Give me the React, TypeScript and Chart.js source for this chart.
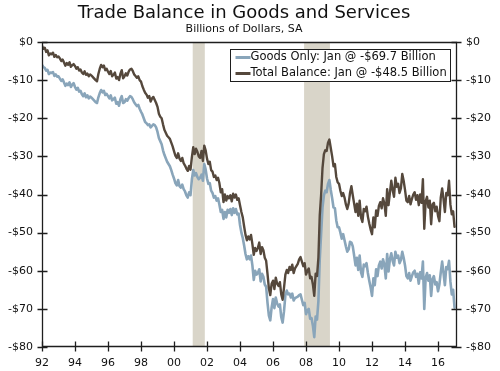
import React, { useEffect, useRef } from "react";
import { Chart, registerables } from "chart.js";

Chart.register(...registerables);

const START_YEAR = 1992;

const TITLE = "Trade Balance in Goods and Services";
const SUBTITLE = "Billions of Dollars, SA";

const seriesLabels = ["Goods Only: Jan @ -$69.7 Billion", "Total Balance: Jan @ -$48.5 Billion"];

// Monthly, Jan 1992 .. Jan 2017, billions of dollars (SA)
const goodsOnly = [
  -6.0, -6.6, -6.8, -7.5, -7.3, -8.4, -8.0, -8.1, -7.9, -8.9, -8.5, -9.1,
  -9.0, -9.6, -10.2, -9.8, -10.6, -11.5, -10.9, -11.3, -10.6, -11.8, -11.2, -10.8,
  -11.8, -12.5, -12.0, -13.0, -12.8, -13.7, -14.2, -13.5, -14.5, -14.0, -14.8, -14.3,
  -14.6, -15.0, -15.4, -15.8, -16.0, -14.5, -13.4, -12.6, -13.2, -12.8, -13.9, -13.6,
  -14.2, -14.8, -14.0, -15.3, -15.0, -14.6, -16.2, -15.8, -16.7, -15.0, -14.2, -16.0,
  -15.8, -15.0, -15.4, -14.7, -14.2, -14.4, -15.0, -15.8, -16.3, -16.8, -16.5, -17.5,
  -18.3, -19.0, -20.0, -21.0, -21.3, -21.8, -21.6, -22.4, -22.0, -21.6, -21.8, -22.4,
  -23.6, -25.2, -26.0, -26.8, -28.4, -29.6, -30.5, -31.4, -32.0, -32.6, -33.6, -34.8,
  -35.8, -37.0, -37.6, -36.2, -37.8, -38.2, -37.4, -38.6, -39.2, -40.2, -40.8, -39.4,
  -40.2, -36.0, -33.6, -35.0, -34.4, -35.4, -36.0, -35.6, -34.8, -36.4, -32.0, -33.4,
  -35.8, -37.2, -37.0, -39.0, -39.6, -40.8, -40.4, -41.6, -41.0, -42.6, -44.6, -44.0,
  -46.4, -44.6, -46.0, -44.0, -44.8, -43.8, -45.4, -43.6, -44.8, -43.8, -45.2, -45.0,
  -48.0, -50.0, -51.4, -53.4, -55.6, -57.0, -56.2, -57.0, -56.0, -58.6, -62.4, -60.0,
  -61.0, -60.6, -59.6, -62.8, -60.8, -61.6, -63.6, -64.2, -68.4, -71.8, -73.0, -69.6,
  -67.4, -69.8, -67.0, -68.6, -69.4, -68.8, -72.2, -73.6, -70.6, -66.4, -65.2, -66.2,
  -66.0, -67.0, -66.0, -67.8, -67.2, -67.0, -66.8, -66.4, -66.2, -67.6, -69.0, -68.4,
  -71.4, -70.4, -70.0, -72.6, -72.4, -74.4, -77.4, -72.0, -72.8, -68.0, -57.0, -50.2,
  -43.4, -40.2, -39.0, -39.4, -37.2, -36.2, -38.8, -41.0, -43.4, -43.6, -46.8, -48.6,
  -48.6, -50.0, -51.6, -50.4, -52.0, -53.6, -55.0, -54.4, -52.4, -52.6, -53.6, -56.0,
  -58.6, -56.6, -59.8, -56.0, -60.4, -61.6, -58.4, -58.8, -58.0, -60.6, -62.6, -64.4,
  -66.6, -62.0, -63.8, -59.6, -61.4, -58.6, -57.6, -59.4, -57.0, -58.4, -62.0, -55.6,
  -60.2, -57.0, -55.4, -57.4, -58.6, -55.0, -56.6, -56.0, -58.0, -57.2, -55.0, -56.6,
  -58.6, -61.4, -62.0, -60.6, -62.6, -61.4, -60.4, -60.0, -61.6, -60.8, -63.4, -60.4,
  -62.0, -57.6, -70.0, -61.8, -60.6, -62.6, -61.2, -66.6, -62.2, -61.4, -63.6, -63.0,
  -65.4, -63.6, -60.4, -57.6, -60.6, -63.8, -59.0, -59.6, -57.4, -62.8, -66.2, -65.0,
  -69.7,
];

const totalBalance = [
  -1.0, -1.8, -1.5, -2.6, -2.2, -3.5, -3.0, -3.2, -2.8, -3.9, -3.4, -4.0,
  -3.8, -4.3, -5.0, -4.6, -5.4, -6.2, -5.5, -6.0, -5.3, -6.5, -6.1, -5.8,
  -6.3, -7.0, -6.6, -7.5, -7.2, -8.0, -8.4, -7.7, -8.6, -8.3, -9.0, -8.5,
  -8.8, -9.2, -9.6, -10.0, -10.3, -8.4, -7.0, -6.0, -6.6, -6.2, -7.4, -7.0,
  -7.8, -8.4, -7.6, -9.0, -8.6, -8.0, -9.6, -9.2, -10.0, -8.4, -7.4, -9.5,
  -9.0, -8.2, -8.8, -7.8, -7.2, -7.0, -7.6, -8.5, -8.9, -9.4, -9.0, -10.0,
  -10.4, -11.6, -12.5, -13.3, -13.8, -14.6, -14.2, -15.6, -14.8, -14.4, -15.2, -16.0,
  -17.0, -18.8, -19.6, -20.0, -21.6, -23.0, -23.8, -24.6, -25.0, -25.4, -26.4, -27.4,
  -28.6, -29.8, -30.4, -29.2, -30.6, -31.2, -30.4, -31.8, -32.4, -33.2, -33.8, -32.5,
  -33.5, -30.2, -27.6, -29.4, -28.0, -28.8, -30.0, -30.4, -28.6, -31.2, -27.2, -28.4,
  -30.6, -32.0, -31.4, -33.6, -34.0, -35.4, -35.0, -36.2, -35.6, -37.0, -39.4, -38.6,
  -42.0, -40.0, -41.6, -40.4, -41.0, -40.2, -41.8, -39.8, -40.8, -40.0, -41.4, -41.0,
  -42.8, -44.6, -46.0, -48.4, -50.6, -52.0, -51.0, -51.8, -50.6, -53.0, -55.8, -54.0,
  -54.8, -54.0, -52.6, -55.6, -53.8, -54.6, -56.6, -57.4, -60.8, -64.6, -66.4, -63.4,
  -62.6, -64.8, -61.8, -63.4, -64.0, -63.0, -66.2, -67.6, -64.4, -61.0, -59.8, -60.6,
  -59.0, -59.8, -58.4, -60.6, -59.4, -58.8, -58.2, -57.0, -56.4, -57.6, -58.8, -58.0,
  -61.0, -60.0, -59.4, -62.0, -61.6, -63.6, -66.6, -60.8, -61.4, -56.6, -45.4, -40.0,
  -33.0, -29.4, -28.4, -28.6, -26.4, -25.6, -27.8, -30.0, -32.6, -32.0, -35.4, -36.8,
  -37.2, -39.0, -40.4, -39.6, -40.8, -42.6, -43.8, -42.4, -39.6, -37.8, -40.2, -42.4,
  -44.6, -42.4, -45.6, -41.6, -46.0, -47.2, -43.8, -44.4, -43.2, -45.8, -47.6, -49.2,
  -50.4, -46.0, -48.6, -44.2, -45.6, -43.0, -42.0, -43.6, -41.0, -42.4, -45.6, -38.6,
  -42.8, -39.6, -36.4, -38.8, -40.6, -35.6, -38.0, -37.2, -39.6, -38.4, -34.6, -36.4,
  -38.8, -41.6, -42.0, -40.4, -42.6, -41.2, -40.0, -39.4, -41.4, -40.2, -42.8, -40.0,
  -42.2, -36.0, -49.0, -41.8, -40.6, -43.4, -41.6, -47.8, -42.6, -42.2, -44.4, -43.2,
  -45.6, -47.0, -40.8, -38.4, -41.2, -44.6, -39.6, -40.2, -36.4, -42.6, -45.2, -44.4,
  -48.5,
];

// Recession periods [start, end] as "YYYY-MM"
const recessions = [
  ["2001-03", "2001-11"],
  ["2007-12", "2009-06"],
];

const xTickYears = [1992, 1994, 1996, 1998, 2000, 2002, 2004, 2006, 2008, 2010, 2012, 2014, 2016];
const yTickValues = [0, -10, -20, -30, -40, -50, -60, -70, -80];
const X_END = "2017-03";

const GOODS_COLOR = "#89a5ba";
const TOTAL_COLOR = "#55483c";
const SHADE_COLOR = "#d9d5c9";
const AXIS_COLOR = "#1e1e1e";
const FONT = "'DejaVu Sans', Verdana, sans-serif";

const monthIndex = (ym: string) => {
  const [y, m] = ym.split("-").map(Number);
  return (y - START_YEAR) * 12 + (m - 1);
};

const fmtDollar = (v: number) => (v === 0 ? "$0" : (v < 0 ? "-$" : "$") + Math.abs(v));

const shadingPlugin = {
  id: "recessionShading",
  beforeDatasetsDraw(chart: any) {
    const { ctx, chartArea, scales } = chart;
    ctx.save();
    ctx.fillStyle = SHADE_COLOR;
    recessions.forEach(([s, e]) => {
      const x1 = scales.x.getPixelForValue(monthIndex(s) - 0.4);
      const x2 = scales.x.getPixelForValue(monthIndex(e) + 0.4);
      ctx.fillRect(x1, chartArea.top, x2 - x1, chartArea.bottom - chartArea.top);
    });
    ctx.restore();
  },
};

const framePlugin = {
  id: "frameTicks",
  afterDatasetsDraw(chart: any) {
    const { ctx, chartArea, scales } = chart;
    const L = Math.round(chartArea.left) + 0.5;
    const R = Math.round(chartArea.right) - 0.5;
    const T = Math.round(chartArea.top) + 0.5;
    const B = Math.round(chartArea.bottom) - 0.5;
    ctx.save();
    ctx.strokeStyle = AXIS_COLOR;
    ctx.lineWidth = 1.3;
    ctx.beginPath();
    ctx.rect(L, T, R - L, B - T);
    ctx.stroke();
    const tl = 5;
    ctx.beginPath();
    scales.x.ticks.forEach((t: any) => {
      const x = Math.round(scales.x.getPixelForValue(t.value)) + 0.5;
      ctx.moveTo(x, B - tl);
      ctx.lineTo(x, B + tl);
    });
    scales.y.ticks.forEach((t: any) => {
      const y = Math.round(scales.y.getPixelForValue(t.value)) + 0.5;
      ctx.moveTo(L - tl, y);
      ctx.lineTo(L + tl, y);
      ctx.moveTo(R - tl, y);
      ctx.lineTo(R + tl, y);
    });
    ctx.stroke();
    ctx.restore();
  },
};

const legendPlugin = {
  id: "boxLegend",
  afterDraw(chart: any) {
    const { ctx, chartArea } = chart;
    ctx.save();
    ctx.font = `11.5px ${FONT}`;
    const order = [1, 0];
    const labels = order.map((i) => chart.data.datasets[i]);
    const left = chartArea.left + 188.5;
    const top = chartArea.top + 7.5;
    const sampleW = 15;
    const textX = left + 5 + sampleW;
    const maxW = Math.max(...labels.map((d: any) => ctx.measureText(d.label).width));
    const w = Math.round(textX - left + maxW + 4);
    const h = 32;
    ctx.fillStyle = "#ffffff";
    ctx.fillRect(left, top, w, h);
    ctx.strokeStyle = AXIS_COLOR;
    ctx.lineWidth = 1;
    ctx.strokeRect(left, top, w, h);
    labels.forEach((d: any, k: number) => {
      const y = top + 8 + k * 16;
      ctx.strokeStyle = d.borderColor;
      ctx.lineWidth = 3;
      ctx.beginPath();
      ctx.moveTo(left + 5, y);
      ctx.lineTo(left + 5 + sampleW, y);
      ctx.stroke();
      ctx.fillStyle = "#111";
      ctx.textBaseline = "middle";
      ctx.textAlign = "left";
      ctx.fillText(d.label, textX, y);
    });
    ctx.restore();
  },
};

const headerPlugin = {
  id: "header",
  afterDraw(chart: any) {
    const { ctx } = chart;
    ctx.save();
    ctx.fillStyle = "#111";
    ctx.textAlign = "center";
    ctx.textBaseline = "alphabetic";
    ctx.font = `18px ${FONT}`;
    ctx.fillText(TITLE, 244, 18);
    ctx.font = `11px ${FONT}`;
    ctx.fillText(SUBTITLE, 244, 32);
    ctx.restore();
  },
};

export default function App() {
  const canvasRef = useRef<HTMLCanvasElement | null>(null);

  useEffect(() => {
    if (!canvasRef.current) return;
    const toPoints = (arr: number[]) => arr.map((v, i) => ({ x: i, y: v }));
    const yScale = (position: "left" | "right", width: number) => ({
      type: "linear" as const,
      position,
      min: -80,
      max: 0,
      afterBuildTicks: (s: any) => {
        s.ticks = yTickValues.map((v) => ({ value: v }));
      },
      afterFit: (s: any) => {
        s.width = width;
      },
      grid: { display: false, drawTicks: false },
      border: { display: false },
      ticks: {
        padding: 9,
        color: "#111",
        font: { family: FONT, size: 11 },
        callback: (v: any) => fmtDollar(Number(v)),
      },
    });

    const chart = new Chart(canvasRef.current, {
      type: "line",
      data: {
        datasets: [
          {
            label: seriesLabels[1],
            data: toPoints(totalBalance),
            borderColor: TOTAL_COLOR,
            borderWidth: 2.4,
            pointRadius: 0,
            tension: 0,
            yAxisID: "y",
          },
          {
            label: seriesLabels[0],
            data: toPoints(goodsOnly),
            borderColor: GOODS_COLOR,
            borderWidth: 2.6,
            pointRadius: 0,
            tension: 0,
            yAxisID: "y",
          },
        ],
      },
      options: {
        animation: false,
        responsive: false,
        devicePixelRatio: 1,
        layout: { padding: { top: 42, left: 0, right: 0, bottom: 0 } },
        plugins: {
          legend: { display: false },
          tooltip: { enabled: false },
          title: { display: false },
        },
        elements: { line: { borderJoinStyle: "round", borderCapStyle: "round" } },
        scales: {
          x: {
            type: "linear",
            min: 0,
            max: monthIndex(X_END) - 0.2,
            afterBuildTicks: (s: any) => {
              s.ticks = xTickYears.map((y) => ({ value: (y - START_YEAR) * 12 }));
            },
            afterFit: (s: any) => {
              s.height = 24;
            },
            grid: { display: false, drawTicks: false },
            border: { display: false },
            ticks: {
              padding: 10,
              maxRotation: 0,
              autoSkip: false,
              color: "#111",
              font: { family: FONT, size: 11 },
              callback: (v: any) => String(START_YEAR + Number(v) / 12).slice(-2),
            },
          },
          y: yScale("left", 42),
          y2: yScale("right", 43),
        },
      },
      plugins: [shadingPlugin, framePlugin, legendPlugin, headerPlugin],
    });
    return () => chart.destroy();
  }, []);

  return (
    <div style={{ position: "absolute", left: 0, top: 0, width: 500, height: 371, background: "#fff" }}>
      <canvas ref={canvasRef} width={500} height={371} style={{ display: "block" }} />
    </div>
  );
}
